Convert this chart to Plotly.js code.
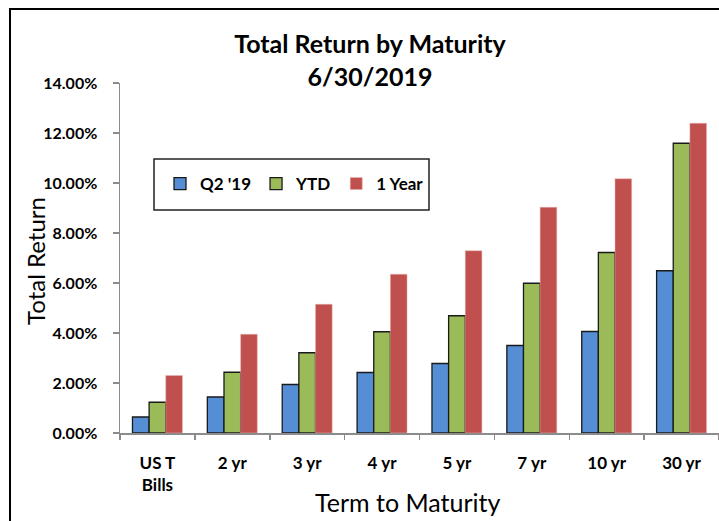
<!DOCTYPE html>
<html>
<head>
<meta charset="utf-8">
<script src="https://cdn.plot.ly/plotly-3.0.1.min.js"></script>
<style>
html,body{margin:0;padding:0;background:#fff;}
#chart{width:719px;height:521px;}
</style>
</head>
<body>
<div id="chart"></div>
<script>
var categories = ["US T<br>Bills", "2 yr", "3 yr", "4 yr", "5 yr", "7 yr", "10 yr", "30 yr"];
var seriesNames = ["Q2 '19", "YTD", "1 Year"];
var q2 = [0.64, 1.44, 1.94, 2.42, 2.78, 3.50, 4.06, 6.49];
var ytd = [1.23, 2.43, 3.21, 4.05, 4.69, 5.99, 7.22, 11.59];
var oneYear = [2.30, 3.95, 5.15, 6.35, 7.29, 9.03, 10.17, 12.39];
var yTickVals = [0, 2, 4, 6, 8, 10, 12, 14];
var yTickText = ["0.00%", "2.00%", "4.00%", "6.00%", "8.00%", "10.00%", "12.00%", "14.00%"];

var FONT = "Lato, 'Open Sans', sans-serif";
var W = 719, H = 521, L = 120, T = 83, PW = 599, PH = 350;
function px(x) { return (x - L) / PW; }
function py(y) { return (T + PH - y) / PH; }

function mk(name, vals, color, lineColor, lineW) {
  return {
    type: "bar", name: name, x: categories, y: vals,
    marker: {color: color, line: {color: lineColor, width: lineW}},
    hoverinfo: "skip"
  };
}

var data = [
  mk(seriesNames[0], q2, "#558ED5", "#1a1a1a", 1.3),
  mk(seriesNames[1], ytd, "#9BBB59", "#1a1a1a", 1.3),
  mk(seriesNames[2], oneYear, "#C0504D", "#e8b0ae", 0.5)
];

var layout = {
  width: W, height: H,
  margin: {l: L, r: 0, t: T, b: H - T - PH, pad: 0},
  paper_bgcolor: "#fff", plot_bgcolor: "#fff",
  barmode: "group", bargap: 0.333, bargroupgap: 0,
  showlegend: true,
  title: {
    text: "<b>Total Return by Maturity<br>6/30/2019</b>",
    font: {family: FONT, size: 25, color: "#000"},
    x: 370 / W, xanchor: "center", y: 1 - 53 / H, yanchor: "middle"
  },
  xaxis: {
    type: "category",
    showline: true, linecolor: "#8c8c8c", linewidth: 1.5,
    ticks: "outside", tickson: "boundaries", ticklen: 5, tickcolor: "#8c8c8c", tickwidth: 1.5,
    ticklabelstandoff: 14,
    tickfont: {family: FONT, size: 17, color: "#000", weight: "bold"},
    showgrid: false, zeroline: false, fixedrange: true
  },
  yaxis: {
    range: [0, 14],
    tickvals: yTickVals, ticktext: yTickText,
    showline: true, linecolor: "#8c8c8c", linewidth: 1.5,
    ticks: "outside", ticklen: 6, tickcolor: "#8c8c8c", tickwidth: 1.5,
    ticklabelstandoff: 12,
    tickfont: {family: FONT, size: 16, color: "#000", weight: "bold"},
    showgrid: false, zeroline: false, fixedrange: true
  },
  legend: {
    orientation: "h",
    x: px(160), xanchor: "left",
    y: py(184), yanchor: "middle",
    bgcolor: "rgba(0,0,0,0)", borderwidth: 0,
    font: {family: FONT, size: 17, color: "#000", weight: "bold"},
    itemwidth: 30, traceorder: "normal"
  },
  annotations: [{
    text: "Term to Maturity", xref: "paper", yref: "paper",
    x: px(408), y: py(502), xanchor: "center", yanchor: "middle",
    showarrow: false, font: {family: FONT, size: 25, color: "#000"}
  }, {
    text: "Total Return", xref: "paper", yref: "paper", textangle: -90,
    x: px(35), y: py(261), xanchor: "center", yanchor: "middle",
    showarrow: false, font: {family: FONT, size: 24, color: "#000"}
  }],
  shapes: [{
    type: "rect", xref: "paper", yref: "paper",
    x0: px(10), x1: px(740), y0: py(540), y1: py(9),
    line: {color: "#000", width: 2}, fillcolor: "rgba(0,0,0,0)", layer: "below"
  }, {
    type: "rect", xref: "paper", yref: "paper",
    x0: px(154), x1: px(429), y0: py(210), y1: py(159),
    line: {color: "#222", width: 1.5}, fillcolor: "#fff", layer: "above"
  }]
};

Plotly.newPlot("chart", data, layout, {displayModeBar: false, staticPlot: true});
</script>
</body>
</html>
